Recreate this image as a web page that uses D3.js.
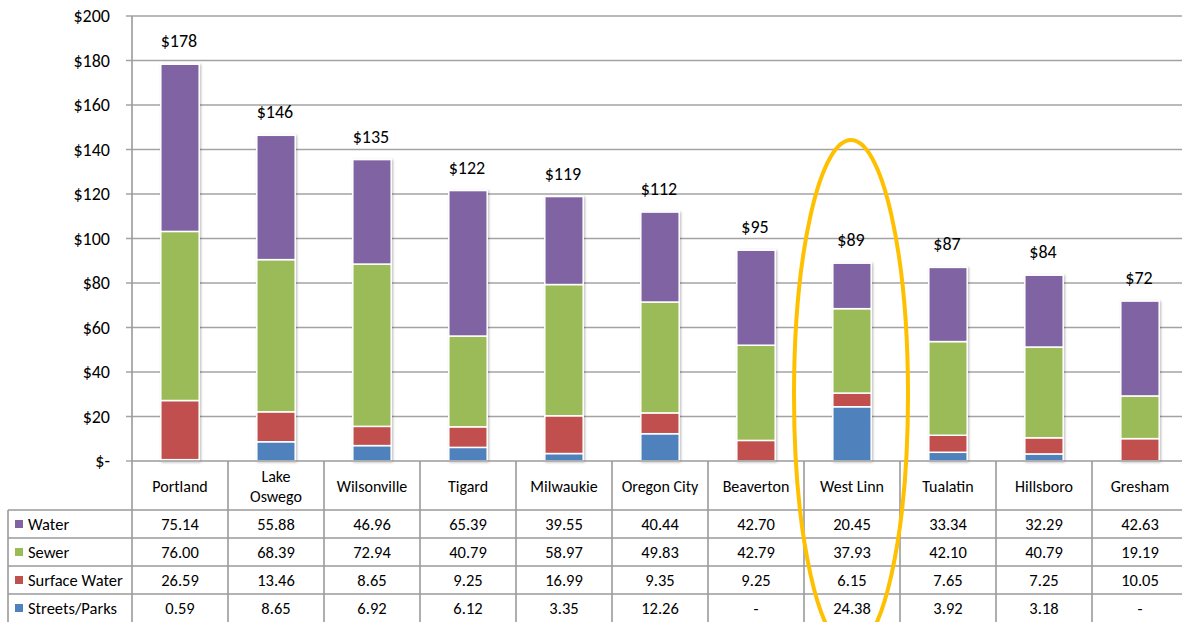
<!DOCTYPE html>
<html>
<head>
<meta charset="utf-8">
<script src="https://cdn.jsdelivr.net/npm/d3@7"></script>
<style>
  html, body { margin: 0; padding: 0; background: #fff; }
  svg text { font-family: Calibri, Carlito, Lato, sans-serif; fill: #000; }
</style>
</head>
<body>
<div id="canvas"></div>
<script>
// Monthly utility fees by city, stacked bar + data table

const width = 1182, height = 622;

const cities = ["Portland", "Lake Oswego", "Wilsonville", "Tigard", "Milwaukie", "Oregon City",
                "Beaverton", "West Linn", "Tualatin", "Hillsboro", "Gresham"];
const seriesNames = ["Water", "Sewer", "Surface Water", "Streets/Parks"];
const water        = [75.14, 55.88, 46.96, 65.39, 39.55, 40.44, 42.70, 20.45, 33.34, 32.29, 42.63];
const sewer        = [76.00, 68.39, 72.94, 40.79, 58.97, 49.83, 42.79, 37.93, 42.10, 40.79, 19.19];
const surfaceWater = [26.59, 13.46, 8.65, 9.25, 16.99, 9.35, 9.25, 6.15, 7.65, 7.25, 10.05];
const streetsParks = [0.59, 8.65, 6.92, 6.12, 3.35, 12.26, null, 24.38, 3.92, 3.18, null];
const yTicks = [0, 20, 40, 60, 80, 100, 120, 140, 160, 180, 200];
const highlightCity = "West Linn";

const seriesValues = [water, sewer, surfaceWater, streetsParks];
const colors = ["#8064A2", "#9BBB59", "#C0504D", "#4F81BD"];

const svg = d3.select("#canvas").append("svg")
  .attr("width", width).attr("height", height);

// shadow for bars
const defs = svg.append("defs");
const f = defs.append("filter").attr("id", "sh").attr("x", "-20%").attr("y", "-20%")
  .attr("width", "140%").attr("height", "140%");
f.append("feDropShadow").attr("dx", 1.2).attr("dy", 0.8).attr("stdDeviation", 1)
  .attr("flood-color", "#000").attr("flood-opacity", 0.25);

const plotLeft = 132, plotRight = 1188, plotTop = 16, plotBottom = 461;
const x = d3.scaleBand().domain(cities).range([plotLeft, plotRight]).paddingInner(0);
const y = d3.scaleLinear().domain([0, 200]).range([plotBottom, plotTop]);
const gridColor = "#a3a3a3", tableColor = "#9a9a9a";

// gridlines + ticks
svg.append("g").selectAll("line").data(yTicks.filter(d => d > 0)).join("line")
  .attr("x1", plotLeft - 6).attr("x2", plotRight)
  .attr("y1", d => y(d)).attr("y2", d => y(d))
  .attr("stroke", gridColor).attr("stroke-width", 1.4);
svg.append("line").attr("x1", plotLeft - 6).attr("x2", plotLeft)
  .attr("y1", y(0)).attr("y2", y(0)).attr("stroke", gridColor).attr("stroke-width", 1.4);

svg.append("g").selectAll("text").data(yTicks).join("text")
  .attr("x", 110).attr("y", d => y(d)).attr("dy", "0.35em")
  .attr("text-anchor", "end").style("font-size", "18px")
  .text(d => d === 0 ? "$-" : "$" + d);

// stacked bars
const rows = cities.map((c, i) => ({
  city: c, water: water[i], sewer: sewer[i],
  surface: surfaceWater[i], streets: streetsParks[i] || 0
}));
const stack = d3.stack().keys(["streets", "surface", "sewer", "water"]);
const stacked = stack(rows);
const keyColor = { streets: colors[3], surface: colors[2], sewer: colors[1], water: colors[0] };
const barW = x.bandwidth() * 0.4;

const barG = svg.append("g").attr("filter", "url(#sh)");
stacked.forEach(layer => {
  barG.append("g").selectAll("rect").data(layer.filter(d => d[1] - d[0] > 0)).join("rect")
    .attr("x", d => x(d.data.city) + (x.bandwidth() - barW) / 2)
    .attr("width", barW)
    .attr("y", d => y(d[1]))
    .attr("height", d => y(d[0]) - y(d[1]))
    .attr("fill", keyColor[layer.key])
    .attr("stroke", "#fff").attr("stroke-width", 1.5);
});

// totals
svg.append("g").selectAll("text").data(rows).join("text")
  .attr("x", d => x(d.city) + x.bandwidth() / 2 - 1)
  .attr("y", d => y(d.water + d.sewer + d.surface + d.streets) - 17)
  .attr("text-anchor", "middle").style("font-size", "18px")
  .text(d => "$" + Math.round(d.water + d.sewer + d.surface + d.streets));

// data table
const headerBottom = 510, rowH = 28;
const tableLeft = 8;
const t = svg.append("g");
// vertical lines
t.append("line").attr("x1", plotLeft).attr("x2", plotLeft).attr("y1", plotTop).attr("y2", height)
  .attr("stroke", tableColor).attr("stroke-width", 1.6);
t.selectAll("line.v").data(cities.slice(1)).join("line").attr("class", "v")
  .attr("x1", d => x(d)).attr("x2", d => x(d)).attr("y1", plotBottom).attr("y2", height)
  .attr("stroke", tableColor).attr("stroke-width", 1.6);
t.append("line").attr("x1", tableLeft).attr("x2", tableLeft).attr("y1", headerBottom).attr("y2", height)
  .attr("stroke", tableColor).attr("stroke-width", 1.6);
// horizontal lines
t.append("line").attr("x1", plotLeft).attr("x2", plotRight).attr("y1", plotBottom).attr("y2", plotBottom)
  .attr("stroke", tableColor).attr("stroke-width", 1.6);
t.selectAll("line.h").data(d3.range(4)).join("line").attr("class", "h")
  .attr("x1", tableLeft).attr("x2", plotRight)
  .attr("y1", i => headerBottom + i * rowH).attr("y2", i => headerBottom + i * rowH)
  .attr("stroke", tableColor).attr("stroke-width", 1.6);

// category headers
cities.forEach(c => {
  const words = c === "Lake Oswego" ? ["Lake", "Oswego"] : [c];
  const cx = x(c) + x.bandwidth() / 2;
  const midY = (plotBottom + headerBottom) / 2 + 1;
  const txt = t.append("text").attr("text-anchor", "middle").style("font-size", "16px");
  words.forEach((w, k) => {
    txt.append("tspan").attr("x", cx)
      .attr("y", midY + (k - (words.length - 1) / 2) * 20)
      .attr("dy", "0.35em").text(w);
  });
});

// rows
seriesNames.forEach((name, r) => {
  const cy = headerBottom + r * rowH + rowH / 2;
  t.append("rect").attr("x", 15).attr("y", cy - 4).attr("width", 8).attr("height", 8)
    .attr("fill", colors[r]);
  t.append("text").attr("x", 28).attr("y", cy).attr("dy", "0.35em")
    .style("font-size", "16.5px").text(name);
  t.append("g").selectAll("text").data(seriesValues[r]).join("text")
    .attr("x", (d, i) => x(cities[i]) + x.bandwidth() / 2)
    .attr("y", cy).attr("dy", "0.35em").attr("text-anchor", "middle")
    .style("font-size", "16.5px")
    .text(d => d == null ? "-" : d.toFixed(2));
});

// highlight ellipse
svg.append("ellipse")
  .attr("cx", x(highlightCity) + x.bandwidth() / 2 - 1)
  .attr("cy", 395).attr("rx", 57).attr("ry", 255)
  .attr("fill", "none").attr("stroke", "#FFC000").attr("stroke-width", 4);
</script>
</body>
</html>
